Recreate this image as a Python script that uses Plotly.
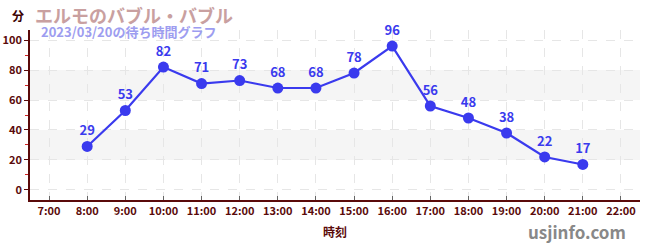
import plotly.graph_objects as go

hours = [8, 9, 10, 11, 12, 13, 14, 15, 16, 17, 18, 19, 20, 21]
waits = [29, 53, 82, 71, 73, 68, 68, 78, 96, 56, 48, 38, 22, 17]
tick_hours = list(range(7, 23))
tick_labels = [f"{h}:00" for h in tick_hours]
y_ticks = [0, 20, 40, 60, 80, 100]
bands = [(20, 40), (60, 80)]

FONT = "Noto Sans CJK JP"
AX = "#5a0a0a"

fig = go.Figure()
fig.add_trace(go.Scatter(
    x=hours, y=waits, mode="lines+markers+text",
    text=[str(v) for v in waits], textposition="top center",
    textfont=dict(family=FONT, size=13, color="#3a3aee", weight="bold"),
    line=dict(color="#3a3aee", width=2.2),
    marker=dict(color="#3a3aee", size=11),
    cliponaxis=False, hoverinfo="skip",
))

for lo, hi in bands:
    fig.add_shape(type="rect", xref="paper", yref="y", x0=0, x1=1, y0=lo, y1=hi,
                  fillcolor="#f5f5f5", line_width=0, layer="below")

fig.update_layout(
    width=650, height=250,
    margin=dict(l=30, r=10, t=30, b=50),
    paper_bgcolor="white", plot_bgcolor="white",
    showlegend=False,
    font=dict(family=FONT, color=AX),
    xaxis=dict(
        range=[6.5, 22.5], tickvals=tick_hours, ticktext=tick_labels,
        automargin=False,
        showgrid=True, gridcolor="#e6e6e6", griddash="dash", gridwidth=1,
        showline=True, linecolor=AX, linewidth=1.5,
        ticks="inside", ticklen=4, tickcolor="#666", tickwidth=1,
        tickfont=dict(family=FONT, size=11, color=AX, weight="bold"),
        zeroline=False,
        title=dict(text="時刻", font=dict(family=FONT, size=12, color=AX, weight="bold"), standoff=12),
    ),
    yaxis=dict(
        range=[-6.7, 106.7], tickvals=y_ticks,
        automargin=False,
        showgrid=True, gridcolor="#e6e6e6", griddash="dash", gridwidth=1,
        showline=True, linecolor=AX, linewidth=1.5,
        ticks="outside", ticklen=4, tickcolor=AX,
        tickfont=dict(family=FONT, size=11, color=AX, weight="bold"),
        zeroline=False,
        minor=dict(tickvals=[10, 30, 50, 70, 90], ticks="outside", ticklen=3, tickcolor="#d02020", showgrid=False),
    ),
    annotations=[
        dict(text="分", xref="paper", yref="paper", x=0, y=1.0, yanchor="bottom", xanchor="right",
             xshift=-4, yshift=4, showarrow=False, font=dict(family=FONT, size=12, color="#3a0000", weight="bold")),
        dict(text="エルモのバブル・バブル", xref="paper", yref="paper", x=0.0, y=1.0, xanchor="left",
             yanchor="bottom", xshift=3, yshift=0, showarrow=False,
             font=dict(family=FONT, size=18, color="#c9a0a0", weight="bold")),
        dict(text="2023/03/20の待ち時間グラフ", xref="paper", yref="paper", x=0.0, y=1.0, xanchor="left",
             yanchor="top", xshift=9, yshift=10, showarrow=False,
             font=dict(family=FONT, size=13, color="#9d9df0", weight="bold")),
        dict(text="usjinfo.com", xref="paper", yref="paper", x=1.0, y=0, xanchor="right", yanchor="top",
             xshift=-12, yshift=-17, showarrow=False,
             font=dict(family=FONT, size=17, color="#888888", weight="bold")),
    ],
)

fig.write_html("out.html")
